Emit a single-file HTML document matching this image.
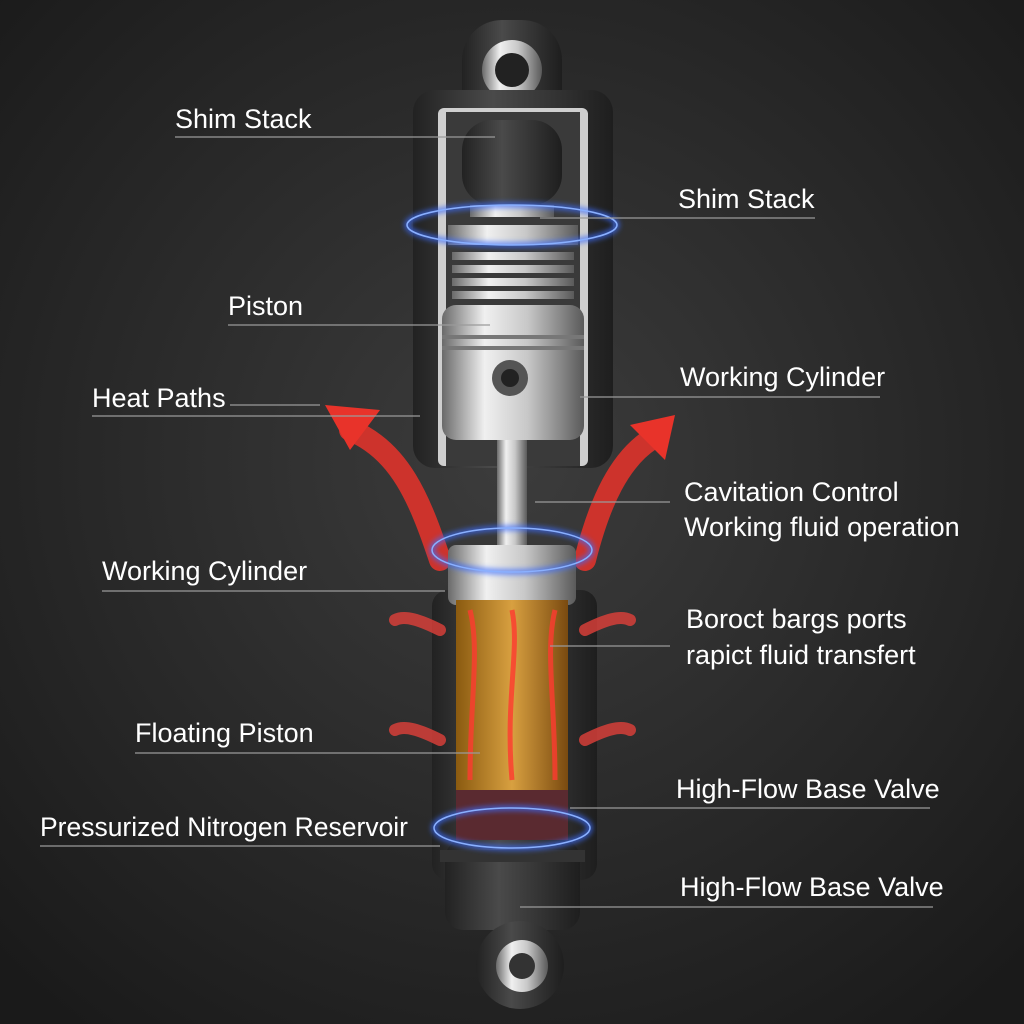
<!DOCTYPE html>
<html><head><meta charset="utf-8"><style>
html,body{margin:0;padding:0;background:#262626}
svg{display:block}
text{font-family:"Liberation Sans",sans-serif;fill:#fff;font-size:27px}
</style></head><body>
<svg width="1024" height="1024" viewBox="0 0 1024 1024" xmlns="http://www.w3.org/2000/svg">
<defs>
<radialGradient id="bg" cx="50%" cy="45%" r="70%"><stop offset="0" stop-color="#3c3c3c"/><stop offset="1" stop-color="#1a1a1a"/></radialGradient>
<linearGradient id="metal" x1="0" x2="1"><stop offset="0" stop-color="#6a6a6a"/><stop offset=".3" stop-color="#f0f0f0"/><stop offset=".6" stop-color="#c8c8c8"/><stop offset="1" stop-color="#5a5a5a"/></linearGradient>
<linearGradient id="dark" x1="0" x2="1"><stop offset="0" stop-color="#222"/><stop offset=".4" stop-color="#4a4a4a"/><stop offset="1" stop-color="#1e1e1e"/></linearGradient>
<linearGradient id="fluid" x1="0" x2="1"><stop offset="0" stop-color="#8a5a10"/><stop offset=".5" stop-color="#d8a040"/><stop offset="1" stop-color="#7a4a10"/></linearGradient>
<filter id="glow"><feGaussianBlur stdDeviation="3"/></filter>
</defs>
<rect width="1024" height="1024" fill="url(#bg)"/>

<rect x="462" y="20" width="100" height="110" rx="40" fill="url(#dark)"/>
<circle cx="512" cy="70" r="30" fill="url(#metal)"/>
<circle cx="512" cy="70" r="17" fill="#222"/>
<rect x="413" y="90" width="200" height="378" rx="22" fill="url(#dark)"/>
<rect x="438" y="108" width="150" height="358" rx="6" fill="#cfcfcf"/>
<rect x="446" y="112" width="134" height="354" fill="#3a3a3a"/>
<rect x="462" y="120" width="100" height="85" rx="30" fill="url(#dark)"/>
<rect x="470" y="205" width="84" height="12" fill="url(#metal)"/>
<rect x="448" y="225" width="130" height="20" fill="url(#metal)"/>
<g fill="url(#metal)"><rect x="452" y="252" width="122" height="8"/><rect x="452" y="265" width="122" height="8"/><rect x="452" y="278" width="122" height="8"/><rect x="452" y="291" width="122" height="8"/></g>
<rect x="442" y="305" width="142" height="135" rx="14" fill="url(#metal)"/>
<rect x="442" y="335" width="142" height="4" fill="#777"/><rect x="442" y="346" width="142" height="4" fill="#777"/>
<circle cx="510" cy="378" r="18" fill="#555"/><circle cx="510" cy="378" r="9" fill="#222"/>
<rect x="497" y="440" width="30" height="110" fill="url(#metal)"/>
<g fill="none" stroke="#e8332a" stroke-width="22" opacity=".85" stroke-linecap="round">
<path d="M440 560 C420 500 400 450 350 430"/>
<path d="M585 560 C600 500 620 460 650 440"/>
</g>
<polygon points="325,405 380,410 350,450" fill="#e8332a"/>
<polygon points="675,415 630,425 665,460" fill="#e8332a"/>
<rect x="432" y="590" width="165" height="290" rx="16" fill="url(#dark)"/>
<rect x="448" y="545" width="128" height="60" rx="8" fill="url(#metal)"/>
<rect x="456" y="600" width="112" height="190" fill="url(#fluid)"/>
<g fill="none" stroke="#ff3a30" stroke-width="5" opacity=".8">
<path d="M470 780 C470 700 480 650 470 610"/><path d="M512 780 C505 700 520 650 512 610"/><path d="M555 780 C555 700 545 650 555 610"/>
</g>
<g fill="none" stroke="#e0403a" stroke-width="12" opacity=".8" stroke-linecap="round">
<path d="M440 630 C420 620 405 615 395 620"/><path d="M585 630 C605 620 620 615 630 620"/>
<path d="M440 740 C420 730 405 725 395 730"/><path d="M585 740 C605 730 620 725 630 730"/>
</g>
<rect x="456" y="790" width="112" height="50" fill="#5a2a30"/>
<rect x="445" y="840" width="135" height="90" rx="18" fill="url(#dark)"/>
<rect x="440" y="850" width="145" height="12" fill="#333"/>
<circle cx="520" cy="965" r="44" fill="url(#dark)"/>
<circle cx="522" cy="966" r="26" fill="url(#metal)"/>
<circle cx="522" cy="966" r="13" fill="#333"/>
<g fill="none" stroke="#3a6cff" stroke-width="4" filter="url(#glow)">
<ellipse cx="512" cy="225" rx="105" ry="20"/>
<ellipse cx="512" cy="550" rx="80" ry="22"/>
<ellipse cx="512" cy="828" rx="78" ry="20"/>
</g>
<g fill="none" stroke="#8ab0ff" stroke-width="1.5">
<ellipse cx="512" cy="225" rx="105" ry="20"/>
<ellipse cx="512" cy="550" rx="80" ry="22"/>
<ellipse cx="512" cy="828" rx="78" ry="20"/>
</g>

<g stroke="#9a9a9a" stroke-width="1.2">
<line x1="175" y1="137" x2="495" y2="137"/>
<line x1="540" y1="218" x2="815" y2="218"/>
<line x1="228" y1="325" x2="490" y2="325"/>
<line x1="92" y1="416" x2="420" y2="416"/>
<line x1="230" y1="405" x2="320" y2="405"/>
<line x1="580" y1="397" x2="880" y2="397"/>
<line x1="535" y1="502" x2="670" y2="502"/>
<line x1="102" y1="591" x2="445" y2="591"/>
<line x1="550" y1="646" x2="670" y2="646"/>
<line x1="135" y1="753" x2="480" y2="753"/>
<line x1="570" y1="808" x2="930" y2="808"/>
<line x1="40" y1="846" x2="440" y2="846"/>
<line x1="520" y1="907" x2="933" y2="907"/>
</g>
<text x="175" y="128">Shim Stack</text>
<text x="678" y="208">Shim Stack</text>
<text x="228" y="315">Piston</text>
<text x="92" y="407">Heat Paths</text>
<text x="680" y="386">Working Cylinder</text>
<text x="684" y="501">Cavitation Control</text>
<text x="684" y="536">Working fluid operation</text>
<text x="102" y="580">Working Cylinder</text>
<text x="686" y="628">Boroct bargs ports</text>
<text x="686" y="664">rapict fluid transfert</text>
<text x="135" y="742">Floating Piston</text>
<text x="676" y="798">High-Flow Base Valve</text>
<text x="40" y="836" textLength="368" lengthAdjust="spacingAndGlyphs">Pressurized Nitrogen Reservoir</text>
<text x="680" y="896">High-Flow Base Valve</text>
</svg>
</body></html>
